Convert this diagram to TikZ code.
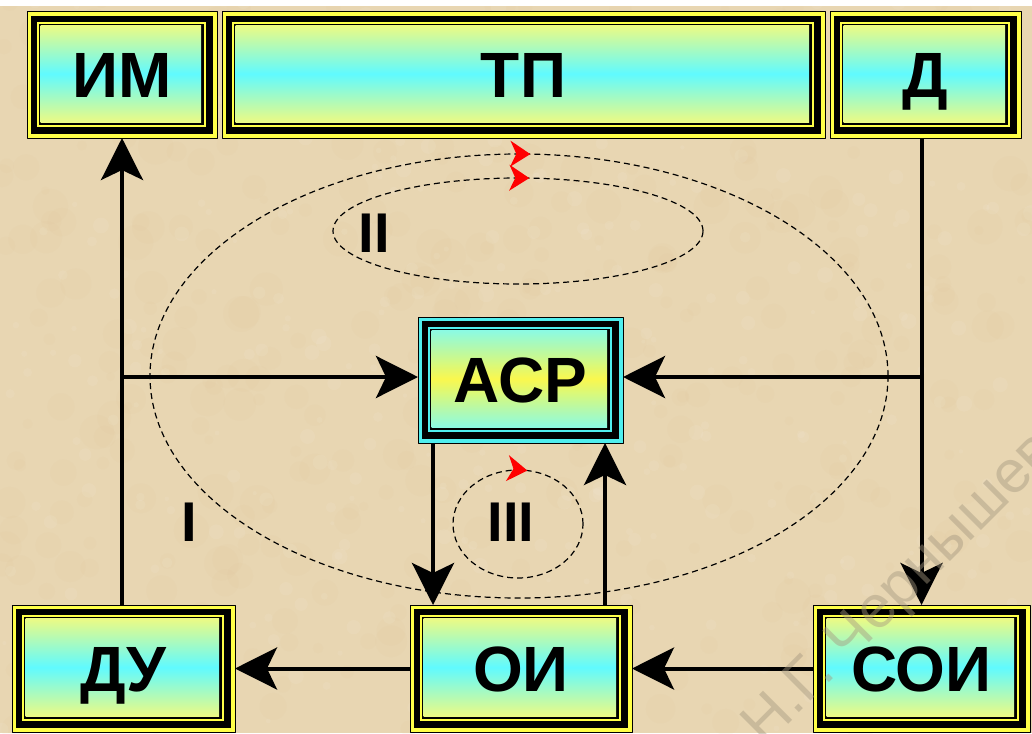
\documentclass[tikz,border=0pt]{standalone}
\usepackage{fontspec}
\setmainfont{Liberation Sans}
\usetikzlibrary{arrows.meta,decorations.markings}
\definecolor{fon}{RGB}{232,214,178}
\definecolor{zhelt}{RGB}{255,255,72}
\definecolor{svetlo}{RGB}{236,250,132}
\definecolor{goluboy}{RGB}{96,250,255}
\definecolor{biryuza}{RGB}{80,238,238}
\definecolor{myata}{RGB}{140,250,226}
\definecolor{limon}{RGB}{250,248,78}
\definecolor{znak}{RGB}{165,152,128}
% inset rectangle inside a node: colour, left/top inset, right/bottom inset
\newcommand\vrez[3]{\fill[#1] ([shift={(#2,-#2)}]path picture bounding box.north west) rectangle ([shift={(-#3,#3)}]path picture bounding box.south east);}
\newcommand\ramka[3]{%
  \vrez{black}{2pt}{2pt}
  \vrez{#1}{5pt}{5.5pt}
  \vrez{black}{6pt}{6.5pt}
  \shade[top color=#2,bottom color=#2,middle color=#3] ([shift={(6.8pt,-6.8pt)}]path picture bounding box.north west) rectangle ([shift={(-8pt,8pt)}]path picture bounding box.south east);}
\tikzset{
  blok/.style={draw=black, line width=0.5pt, fill=zhelt, inner sep=0pt, outer sep=0pt,
    text height=22.6pt, text depth=0pt, font=\bfseries\fontsize{32}{32}\selectfont,
    path picture={\ramka{zhelt}{svetlo}{goluboy}}},
  blokasr/.style={blok, fill=biryuza, path picture={\ramka{biryuza}{myata}{limon}}},
  strelka/.style={->, line width=2pt},
  petlya/.style={line width=0.6pt, dash pattern=on 3pt off 2pt, postaction=decorate,
    decoration={markings, mark=at position #1 with {\arrowreversed{Stealth[length=10pt,width=13pt,inset=3pt,color=red]}}}},
  nomer/.style={font=\bfseries\fontsize{28}{28}\selectfont}
}
\begin{document}
\begin{tikzpicture}[x=0.5pt,y=-0.5pt, line join=round, >={Stealth[length=21pt,width=21pt,inset=5pt]}]
\useasboundingbox (0,0) rectangle (1032,733);
\clip (0,0) rectangle (1032,733);
% background
\fill[fon] (0,0) rectangle (1032,733);
\pgfmathsetseed{11}
\foreach \i in {1,...,400}
  \fill[fon!70!brown, opacity=0.07] ({rnd*1032},{rnd*733}) circle [radius={(2+7*rnd)*1pt}];
\foreach \i in {1,...,400}
  \fill[white, opacity=0.07] ({rnd*1032},{rnd*733}) circle [radius={(1+3*rnd)*1pt}];
\fill[white] (0,0) rectangle (1032,6);
% blocks
\node[blok, minimum width=95pt, minimum height=63pt] (im) at (122,75) {ИМ};
\node[blok, minimum width=301.5pt, minimum height=63pt] (tp) at (523.5,75) {ТП};
\node[blok, minimum width=95.5pt, minimum height=63pt] (d) at (925.5,75) {Д};
\node[blokasr, minimum width=102.5pt, minimum height=63pt] (asr) at (520.5,380) {АСР};
\node[blok, minimum width=111.5pt, minimum height=63.5pt] (du) at (123.5,668.5) {ДУ};
\node[blok, minimum width=111pt, minimum height=63.5pt] (oi) at (521,668.5) {ОИ};
\node[blok, minimum width=108.5pt, minimum height=63.5pt] (soi) at (921.5,668.5) {СОИ};
% loops
\draw[petlya=0.244] (519,376) ellipse [x radius=184.5pt, y radius=111pt];
\draw[petlya=0.236] (518,231) ellipse [x radius=92.5pt, y radius=26.5pt];
\draw[petlya=0.225] (518,524) ellipse [x radius=32.5pt, y radius=27pt];
\node[nomer] (n1) at (189,522) {I};
\node[nomer] (n2) at (374,233) {II};
\node[nomer] (n3) at (511,522) {III};
% connections
\coordinate (jl) at (im.south |- 0,377);
\coordinate (jr) at (soi.north |- 0,377);
\draw[strelka] (im.south |- du.north) -- (im.south);
\draw[strelka] (jl) -- ([yshift=1.5pt]asr.west);
\draw[strelka] (d.south -| soi.north) -- (soi.north);
\draw[strelka] (jr) -- ([yshift=1.5pt]asr.east);
\draw[strelka] ([xshift=7.5pt]asr.south west) -- ([xshift=7.5pt]asr.south west |- oi.north);
\draw[strelka] ([xshift=-9pt]asr.south east |- oi.north) -- ([xshift=-9pt]asr.south east);
\draw[strelka] (oi.west) -- (du.east);
\draw[strelka] (soi.west) -- (oi.east);
% watermark
\node[text=znak, opacity=0.45, rotate=45, anchor=base west, font=\fontsize{30}{30}\selectfont] (wm) at (760,752) {Н.Г. Чернышева};
\end{tikzpicture}
\end{document}
